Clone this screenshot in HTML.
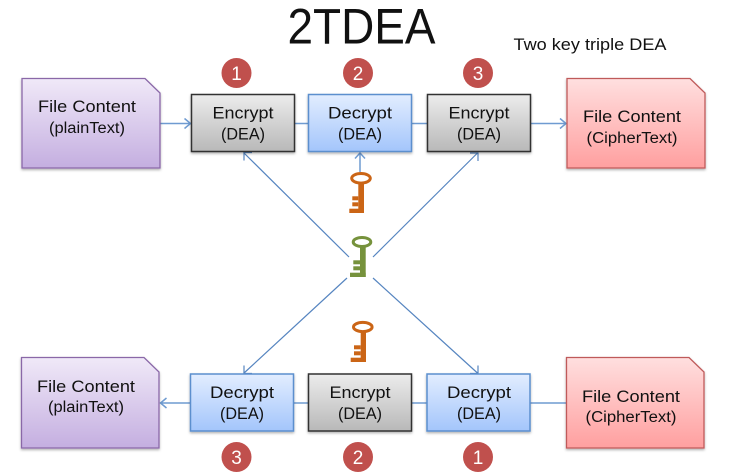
<!DOCTYPE html>
<html><head><meta charset="utf-8"><style>
html,body{margin:0;padding:0;background:#fff;width:730px;height:475px;overflow:hidden}
svg{display:block}
text{font-family:"Liberation Sans",sans-serif;fill:#111;text-anchor:middle}
.a{font-size:17px}.b{font-size:15.5px}.n{font-size:19px;fill:#fff}
.l{stroke:#6f9bd1;stroke-width:1.500;fill:none}
.d{stroke:#5685c0;stroke-width:1.200;fill:none}
</style></head><body>
<svg width="730" height="475" viewBox="0 0 730 475" xmlns="http://www.w3.org/2000/svg">
<defs>
<linearGradient id="p" x1="0" y1="0" x2="0" y2="1"><stop offset="0" stop-color="#f0e9f8"/><stop offset="1" stop-color="#c4aee0"/></linearGradient>
<linearGradient id="r" x1="0" y1="0" x2="0" y2="1"><stop offset="0" stop-color="#ffdfdf"/><stop offset="1" stop-color="#ff9f9f"/></linearGradient>
<linearGradient id="g" x1="0" y1="0" x2="0" y2="1"><stop offset="0" stop-color="#ececec"/><stop offset="1" stop-color="#b8b8b8"/></linearGradient>
<linearGradient id="u" x1="0" y1="0" x2="0" y2="1"><stop offset="0" stop-color="#e2edff"/><stop offset="1" stop-color="#a3c5fb"/></linearGradient>
<filter id="s" x="-5%" y="-5%" width="110%" height="115%"><feDropShadow dx="0" dy="1.500" stdDeviation="1.200" flood-color="#000" flood-opacity="0.3"/></filter>
</defs>
<text x="361.500" y="43.500" style="font-size:50px" textLength="148" lengthAdjust="spacingAndGlyphs">2TDEA</text>
<text x="590" y="50" style="font-size:16.500px" textLength="153" lengthAdjust="spacingAndGlyphs">Two key triple DEA</text>

<!-- connectors -->
<path class="l" d="M160 123.500H190M184.500 118.500L190.500 123.500L184.500 128.500"/>
<path class="l" d="M295 123.500H308M412 123.500H427"/>
<path class="l" d="M531 123.500H566M560 118.500L566 123.500L560 128.500"/>
<path class="l" d="M190 403H160M166.500 398L160.500 403L166.500 408"/>
<path class="l" d="M294 403H308M412 403H427M530 403H566"/>
<path class="l" d="M360 172V153M355 158.500L360 153L365 158.500"/>
<path class="d" d="M349 257L243.500 152.500M244 160.500V152.500H252"/>
<path class="d" d="M373 257L478 152.500M470 153H478V161"/>
<path class="d" d="M347 278L243.500 373.500M244 365.500V373.500H252"/>
<path class="d" d="M373 278L478 373.500M470 373.500H478V365.500"/>

<!-- documents -->
<g filter="url(#s)">
<path d="M22 78.500H145L160 93V168H22Z" fill="url(#p)" stroke="#8a67a8" stroke-width="1.300"/>
<path d="M567 78.500H690L705 93V168H567Z" fill="url(#r)" stroke="#bf5a5a" stroke-width="1.300"/>
<path d="M21.500 357.500H144L159 372V448H21.500Z" fill="url(#p)" stroke="#8a67a8" stroke-width="1.300"/>
<path d="M566.500 357.500H689L704 372V448H566.500Z" fill="url(#r)" stroke="#bf5a5a" stroke-width="1.300"/>
</g>

<!-- boxes -->
<g filter="url(#s)">
<rect x="191.500" y="94.500" width="103" height="57" fill="url(#g)" stroke="#333" stroke-width="1.500"/>
<rect x="308.500" y="94.500" width="103" height="57" fill="url(#u)" stroke="#5b8fce" stroke-width="1.500"/>
<rect x="427.500" y="94.500" width="103" height="57" fill="url(#g)" stroke="#333" stroke-width="1.500"/>
<rect x="190.500" y="374" width="103" height="57" fill="url(#u)" stroke="#5b8fce" stroke-width="1.500"/>
<rect x="308.500" y="374" width="103" height="57" fill="url(#g)" stroke="#333" stroke-width="1.500"/>
<rect x="427" y="374" width="103" height="57" fill="url(#u)" stroke="#5b8fce" stroke-width="1.500"/>
</g>

<!-- box labels -->
<text class="a" x="243" y="118.500" textLength="61" lengthAdjust="spacingAndGlyphs">Encrypt</text><text class="a" x="243" y="139.500" textLength="44" lengthAdjust="spacingAndGlyphs">(DEA)</text>
<text class="a" x="360" y="118.500" textLength="64" lengthAdjust="spacingAndGlyphs">Decrypt</text><text class="a" x="360" y="139.500" textLength="44" lengthAdjust="spacingAndGlyphs">(DEA)</text>
<text class="a" x="479" y="118.500" textLength="61" lengthAdjust="spacingAndGlyphs">Encrypt</text><text class="a" x="479" y="139.500" textLength="44" lengthAdjust="spacingAndGlyphs">(DEA)</text>
<text class="a" x="242" y="398" textLength="64" lengthAdjust="spacingAndGlyphs">Decrypt</text><text class="a" x="242" y="419" textLength="44" lengthAdjust="spacingAndGlyphs">(DEA)</text>
<text class="a" x="360" y="398" textLength="61" lengthAdjust="spacingAndGlyphs">Encrypt</text><text class="a" x="360" y="419" textLength="44" lengthAdjust="spacingAndGlyphs">(DEA)</text>
<text class="a" x="479" y="398" textLength="64" lengthAdjust="spacingAndGlyphs">Decrypt</text><text class="a" x="479" y="419" textLength="44" lengthAdjust="spacingAndGlyphs">(DEA)</text>

<!-- document labels -->
<text class="a" x="87" y="112" textLength="98" lengthAdjust="spacingAndGlyphs">File Content</text><text class="b" x="87" y="133" textLength="76" lengthAdjust="spacingAndGlyphs">(plainText)</text>
<text class="a" x="632" y="122" textLength="98" lengthAdjust="spacingAndGlyphs">File Content</text><text class="b" x="632" y="143" textLength="91" lengthAdjust="spacingAndGlyphs">(CipherText)</text>
<text class="a" x="86" y="392" textLength="98" lengthAdjust="spacingAndGlyphs">File Content</text><text class="b" x="86" y="412" textLength="76" lengthAdjust="spacingAndGlyphs">(plainText)</text>
<text class="a" x="631" y="402" textLength="98" lengthAdjust="spacingAndGlyphs">File Content</text><text class="b" x="631" y="422" textLength="91" lengthAdjust="spacingAndGlyphs">(CipherText)</text>

<!-- number badges -->
<g fill="#c0504d">
<circle cx="236.500" cy="73" r="15"/><circle cx="358" cy="73" r="15"/><circle cx="478" cy="73" r="15"/>
<circle cx="236.500" cy="457" r="15"/><circle cx="358" cy="457" r="15"/><circle cx="478" cy="457" r="15"/>
</g>
<text class="n" x="236.500" y="80">1</text><text class="n" x="358" y="80">2</text><text class="n" x="478" y="80">3</text>
<text class="n" x="236.500" y="464">3</text><text class="n" x="358" y="464">2</text><text class="n" x="478" y="464">1</text>

<!-- keys -->
<g fill="#cb6516" stroke="none">
<ellipse cx="361" cy="178.300" rx="9.300" ry="4.800" fill="none" stroke="#cb6516" stroke-width="3"/>
<rect x="358.300" y="184" width="5.700" height="29"/><rect x="349.300" y="208.700" width="14.700" height="4.300"/>
<rect x="352.300" y="196.300" width="6" height="4"/><rect x="352.300" y="202.300" width="6" height="4"/>
<ellipse cx="362.800" cy="327" rx="9.300" ry="4.600" fill="none" stroke="#cb6516" stroke-width="3"/>
<rect x="360.700" y="332.500" width="5.300" height="29.500"/><rect x="350.700" y="357.700" width="15.300" height="4.300"/>
<rect x="354" y="345.300" width="6.700" height="4"/><rect x="354" y="351.300" width="6.700" height="4"/>
</g>
<g fill="#76923c" stroke="none">
<ellipse cx="362" cy="242" rx="8.800" ry="4.500" fill="none" stroke="#76923c" stroke-width="3"/>
<rect x="360" y="247.500" width="5.700" height="29.500"/><rect x="350" y="272.700" width="15.700" height="4.300"/>
<rect x="353.300" y="260.300" width="6.700" height="4"/><rect x="353.300" y="266.300" width="6.700" height="4"/>
</g>
</svg>
</body></html>
